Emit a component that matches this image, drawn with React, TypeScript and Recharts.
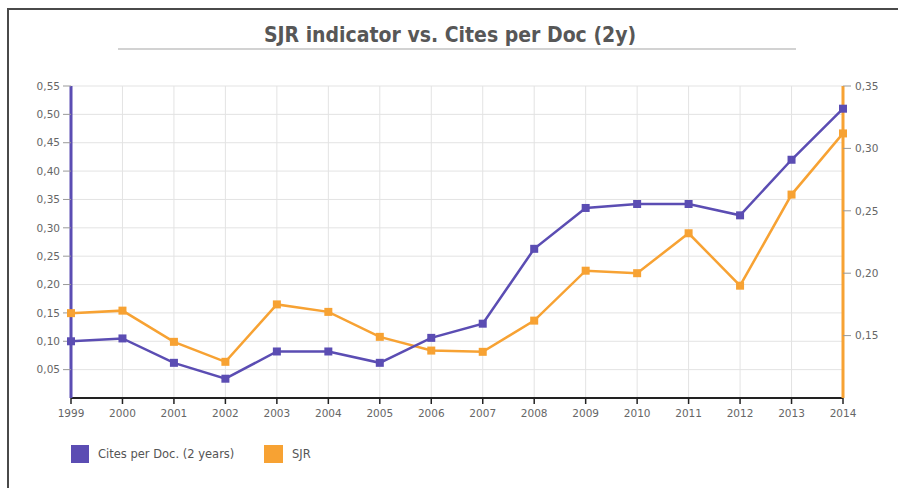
import { LineChart, Line, XAxis, YAxis, CartesianGrid } from "recharts";

const YEARS = [
  "1999", "2000", "2001", "2002", "2003", "2004", "2005", "2006",
  "2007", "2008", "2009", "2010", "2011", "2012", "2013", "2014",
];
const CITES_PER_DOC = [
  0.1, 0.105, 0.062, 0.034, 0.082, 0.082, 0.062, 0.106,
  0.131, 0.263, 0.335, 0.342, 0.342, 0.322, 0.42, 0.51,
];
const SJR = [
  0.168, 0.17, 0.145, 0.129, 0.175, 0.169, 0.149, 0.138,
  0.137, 0.162, 0.202, 0.2, 0.232, 0.19, 0.263, 0.312,
];
const LEFT_TICKS = [0.05, 0.1, 0.15, 0.2, 0.25, 0.3, 0.35, 0.4, 0.45, 0.5, 0.55];
const RIGHT_TICKS = [0.15, 0.2, 0.25, 0.3, 0.35];

const PURPLE = "#5b4db3";
const ORANGE = "#f7a233";
const TICK_FONT = { fontSize: 10.5, fill: "#666", fontFamily: "DejaVu Sans" };

const data = YEARS.map((year, i) => ({
  year,
  cites: CITES_PER_DOC[i],
  sjr: SJR[i],
}));

const fmt = (v: number) => v.toFixed(2).replace(".", ",");

const squareDot = (color: string) => (props: any) => {
  const { cx, cy, index } = props;
  if (cx == null || cy == null) return <g key={`d-${index}`} />;
  return (
    <rect key={`d-${index}`} x={cx - 4} y={cy - 4} width={8} height={8} fill={color} />
  );
};

export default function App() {
  return (
    <div
      style={{
        position: "absolute",
        left: 0,
        top: 0,
        width: 898,
        height: 488,
        background: "#fff",
        overflow: "hidden",
      }}
    >
      {/* frame: only top and left edges show in the crop */}
      <div
        style={{
          position: "absolute",
          left: 7,
          top: 8,
          width: 891,
          height: 480,
          borderTop: "2px solid #4a4a4a",
          borderLeft: "2px solid #4a4a4a",
          boxSizing: "border-box",
        }}
      />
      <div
        style={{
          position: "absolute",
          left: 0,
          width: 900,
          top: 23,
          textAlign: "center",
          fontFamily: "DejaVu Sans Condensed",
          fontWeight: "bold",
          fontSize: 21,
          color: "#575757",
        }}
      >
        SJR indicator vs. Cites per Doc (2y)
      </div>
      <div
        style={{
          position: "absolute",
          left: 118,
          top: 48,
          width: 678,
          height: 2,
          background: "#d2d2d2",
        }}
      />
      <div style={{ position: "absolute", left: 0, top: 0 }}>
        <LineChart
          width={898}
          height={488}
          data={data}
          margin={{ top: 86, right: 0, bottom: 60, left: 21 }}
        >
          <CartesianGrid stroke="#e3e3e3" strokeWidth={1} yAxisId="left" />
          <XAxis
            dataKey="year"
            axisLine={{ stroke: "#222", strokeWidth: 2 }}
            tickLine={{ stroke: "#222", strokeWidth: 1.5 }}
            tickSize={6}
            tickMargin={6}
            tick={TICK_FONT}
            interval={0}
            height={30}
          />
          <YAxis
            yAxisId="left"
            domain={[0, 0.55]}
            ticks={LEFT_TICKS}
            tickFormatter={fmt}
            axisLine={{ stroke: PURPLE, strokeWidth: 3 }}
            tickLine={{ stroke: "#999" }}
            tickSize={8}
            tickMargin={3}
            tick={TICK_FONT}
            width={50}
            allowDataOverflow
          />
          <YAxis
            yAxisId="right"
            orientation="right"
            domain={[0.1, 0.35]}
            ticks={RIGHT_TICKS}
            tickFormatter={fmt}
            axisLine={{ stroke: ORANGE, strokeWidth: 3 }}
            tickLine={{ stroke: "#999" }}
            tickSize={8}
            tickMargin={4}
            tick={TICK_FONT}
            width={55}
            allowDataOverflow
          />
          <Line
            yAxisId="right"
            dataKey="sjr"
            type="linear"
            stroke={ORANGE}
            strokeWidth={2.5}
            dot={squareDot(ORANGE)}
            activeDot={false}
            isAnimationActive={false}
          />
          <Line
            yAxisId="left"
            dataKey="cites"
            type="linear"
            stroke={PURPLE}
            strokeWidth={2.5}
            dot={squareDot(PURPLE)}
            activeDot={false}
            isAnimationActive={false}
          />
        </LineChart>
      </div>
      {/* legend */}
      <div
        style={{
          position: "absolute",
          left: 71,
          top: 445,
          display: "flex",
          alignItems: "center",
          fontFamily: "DejaVu Sans",
          fontSize: 11.5,
          color: "#555",
        }}
      >
        <span style={{ width: 18, height: 18, background: PURPLE, display: "inline-block" }} />
        <span style={{ marginLeft: 9, width: 166 }}>Cites per Doc. (2 years)</span>
        <span style={{ width: 19, height: 18, background: ORANGE, display: "inline-block" }} />
        <span style={{ marginLeft: 9 }}>SJR</span>
      </div>
    </div>
  );
}
